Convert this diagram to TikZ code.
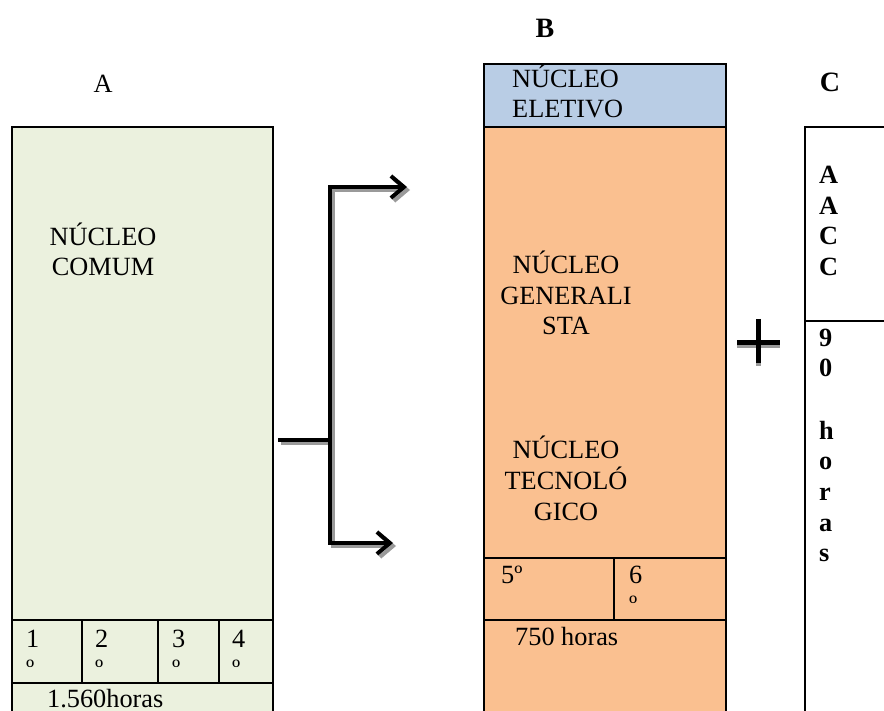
\documentclass[tikz,border=0pt]{standalone}
\usepackage{fontspec}
\setmainfont{Liberation Serif}
\usetikzlibrary{arrows.meta}
\definecolor{greenA}{HTML}{EBF1DE}
\definecolor{blueB}{HTML}{B9CDE5}
\definecolor{orangeB}{HTML}{FAC090}
\definecolor{shade}{HTML}{9A9A9A}
\begin{document}
\begin{tikzpicture}[x=1pt,y=-1pt,
  txt/.style={inner sep=0pt, font=\fontsize{26.3}{30.5}\selectfont},
  lbl/.style={inner sep=0pt, anchor=base, font=\fontsize{28}{32}\selectfont\bfseries},
  vtxt/.style={inner sep=0pt, anchor=base west, font=\fontsize{26.3}{30.5}\selectfont\bfseries},
  boxline/.style={draw=black, line width=2.2pt},
  conn/.style={line width=4pt, line join=miter},
  tip/.style={-{Straight Barb[length=13pt,width=22pt]}},
  shadowed/.style={draw=shade, transform canvas={xshift=3pt,yshift=-3pt}},
  plusshadow/.style={draw=shade, transform canvas={yshift=-3pt}}
]
\useasboundingbox (0,0) rectangle (884,711);

% ---------- column A ----------
\fill[greenA] (12,127) rectangle (273,730);
\draw[boxline] (12,730) -- (12,127) -- (273,127) -- (273,730);
\draw[boxline] (12,620) -- (273,620) (12,683) -- (273,683);
\draw[boxline] (82,620) -- (82,683) (158,620) -- (158,683) (219,620) -- (219,683);

\node[txt, anchor=base] (labA) at (103,93) {A};
\node[txt, anchor=base] (ncA1) at (103,246) {NÚCLEO};
\node[txt, anchor=base] (ncA2) at (103,276) {COMUM};
\node[txt, anchor=base west] (s1) at (26,647) {1};
\node[txt, anchor=base west] (s1o) at (26,677) {º};
\node[txt, anchor=base west] (s2) at (95,647) {2};
\node[txt, anchor=base west] (s2o) at (95,677) {º};
\node[txt, anchor=base west] (s3) at (172,647) {3};
\node[txt, anchor=base west] (s3o) at (172,677) {º};
\node[txt, anchor=base west] (s4) at (232,647) {4};
\node[txt, anchor=base west] (s4o) at (232,677) {º};
\node[txt, anchor=base west] (hA) at (47,707) {1.560horas};

% ---------- column B ----------
\fill[blueB] (484,64) rectangle (726,127);
\fill[orangeB] (484,127) rectangle (726,730);
\draw[boxline] (484,730) -- (484,64) -- (726,64) -- (726,730);
\draw[boxline] (484,127) -- (726,127) (484,558) -- (726,558) (484,620) -- (726,620);
\draw[boxline] (614,558) -- (614,620);

\node[lbl] (labB) at (545,38) {B};
\node[txt, anchor=base west] (ne1) at (512,88) {NÚCLEO};
\node[txt, anchor=base west] (ne2) at (512,118) {ELETIVO};
\node[txt, anchor=base] (ng1) at (566,274) {NÚCLEO};
\node[txt, anchor=base] (ng2) at (566,305) {GENERALI};
\node[txt, anchor=base] (ng3) at (566,335) {STA};
\node[txt, anchor=base] (nt1) at (566,458) {NÚCLEO};
\node[txt, anchor=base] (nt2) at (566,489) {TECNOLÓ};
\node[txt, anchor=base] (nt3) at (566,520) {GICO};
\node[txt, anchor=base west] (s5) at (501,583) {5º};
\node[txt, anchor=base west] (s6) at (629,583) {6};
\node[txt, anchor=base west] (s6o) at (629,613) {º};
\node[txt, anchor=base west] (hB) at (515,645) {750 horas};

% ---------- column C ----------
\draw[boxline] (805,730) -- (805,127) -- (900,127);
\draw[boxline] (805,321) -- (900,321);
\node[lbl] (labC) at (830,92) {C};
\node[vtxt] (c1) at (819,184) {A};
\node[vtxt] (c2) at (819,214.5) {A};
\node[vtxt] (c3) at (819,245) {C};
\node[vtxt] (c4) at (819,275.5) {C};
\node[vtxt] (d1) at (819,347) {9};
\node[vtxt] (d2) at (819,377) {0};
\node[vtxt] (d3) at (819,439) {h};
\node[vtxt] (d4) at (819,469) {o};
\node[vtxt] (d5) at (819,500) {r};
\node[vtxt] (d6) at (819,531) {a};
\node[vtxt] (d7) at (819,561) {s};

% ---------- connectors ----------
\coordinate (stem) at (278,440);
\coordinate (jn) at (330,440);
\coordinate (vt) at (330,187);
\coordinate (vb) at (330,543);
\coordinate (tipT) at (407,187);
\coordinate (tipB) at (393,543);

\draw[conn, shadowed] (stem) -- (jn);
\draw[conn, shadowed, tip] (jn) -- (vt) -- (tipT);
\draw[conn, shadowed, tip] (jn) -- (vb) -- (tipB);
\draw[conn] (stem) -- (jn);
\draw[conn, tip] (jn) -- (vt) -- (tipT);
\draw[conn, tip] (jn) -- (vb) -- (tipB);

% ---------- plus sign ----------
\coordinate (pl) at (737,343);
\coordinate (pr) at (780,343);
\coordinate (pt) at (758,319);
\coordinate (pb) at (758,363);
\draw[line width=5pt, plusshadow] (pl) -- (pr) (pt) -- (pb);
\draw[line width=5pt] (pl) -- (pr) (pt) -- (pb);
\end{tikzpicture}
\end{document}
